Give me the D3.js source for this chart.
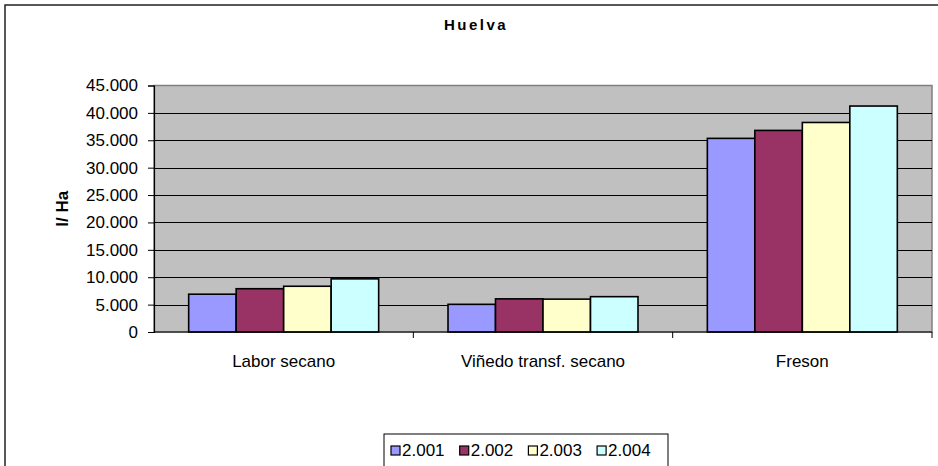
<!DOCTYPE html>
<html>
<head>
<meta charset="utf-8">
<script src="https://cdn.jsdelivr.net/npm/d3@7"></script>
<style>
  body { margin: 0; background: #fff; }
  svg text { font-family: "Liberation Sans", Arial, sans-serif; fill: #000; }
</style>
</head>
<body>
<div id="chart"></div>
<script>
// data
let categories = [ "Labor secano", "Viñedo transf. secano", "Freson" ];
let years = [ "2.001", "2.002", "2.003", "2.004" ];
let values2001 = [ 6900, 5050, 35350 ];
let values2002 = [ 7900, 6050, 36800 ];
let values2003 = [ 8350, 6000, 38250 ];
let values2004 = [ 9700, 6450, 41250 ];
let colors = [ "#9999ff", "#993366", "#ffffcc", "#ccffff" ];
let yTicks = [ 0, 5000, 10000, 15000, 20000, 25000, 30000, 35000, 40000, 45000 ];

let series = [ values2001, values2002, values2003, values2004 ];

let options = {
  width: 938,
  height: 466,
  plot: { left: 154, right: 932, top: 85.5, bottom: 332 }
};

let locale = d3.formatLocale({ decimal: ",", thousands: ".", grouping: [3], currency: ["", ""] });
let fmt = locale.format(",");

let svg = d3.select("#chart")
  .append("svg")
  .attr("width", options.width)
  .attr("height", options.height);

// outer chart border
svg.append("rect")
   .attr("x", 5).attr("y", 5)
   .attr("width", 960).attr("height", 500)
   .attr("fill", "#fff")
   .attr("stroke", "#222")
   .attr("stroke-width", 1.5);

// title
svg.append("text")
   .text("Huelva")
   .attr("x", 476).attr("y", 30)
   .attr("text-anchor", "middle")
   .style("font-weight", "bold")
   .style("font-size", "15px")
   .style("letter-spacing", "2.5px");

let p = options.plot;

let x0 = d3.scaleBand()
  .domain(categories)
  .range([p.left, p.right])
  .padding(0);

let x1 = d3.scaleBand()
  .domain(years)
  .range([0, x0.bandwidth()])
  .paddingInner(0)
  .paddingOuter(0.73);

let y = d3.scaleLinear()
  .domain([0, 45000])
  .range([p.bottom, p.top]);

// plot background
svg.append("rect")
   .attr("x", p.left).attr("y", p.top)
   .attr("width", p.right - p.left)
   .attr("height", p.bottom - p.top)
   .attr("fill", "#c0c0c0")
   .attr("stroke", "#808080")
   .attr("stroke-width", 1.5);

// gridlines
svg.append("g")
   .selectAll("line")
   .data(yTicks.filter(t => t > 0 && t < 45000))
   .enter()
   .append("line")
   .attr("x1", p.left).attr("x2", p.right)
   .attr("y1", d => Math.round(y(d)) + 0.5)
   .attr("y2", d => Math.round(y(d)) + 0.5)
   .attr("stroke", "#000")
   .attr("stroke-width", 1);

// bars
let groups = svg.append("g")
  .selectAll("g")
  .data(categories)
  .enter()
  .append("g")
  .attr("transform", d => `translate(${x0(d)},0)`);

groups.selectAll("rect")
  .data((c, i) => years.map((yr, j) => ({ year: yr, value: series[j][i], color: colors[j] })))
  .enter()
  .append("rect")
  .attr("x", d => x1(d.year))
  .attr("y", d => y(d.value))
  .attr("width", x1.bandwidth())
  .attr("height", d => y(0) - y(d.value))
  .attr("fill", d => d.color)
  .attr("stroke", "#000")
  .attr("stroke-width", 1.6);

// y axis
let yAxis = svg.append("g")
  .attr("transform", `translate(${p.left},0)`)
  .call(d3.axisLeft(y).tickValues(yTicks).tickFormat(fmt).tickSize(6).tickPadding(10));

yAxis.select(".domain").attr("stroke", "#000").attr("stroke-width", 1.2);
yAxis.selectAll(".tick line").attr("stroke", "#000");
yAxis.selectAll(".tick text")
  .style("font-size", "17px")
  .style("font-family", "'Liberation Sans', Arial, sans-serif")
  .attr("fill", "#000");

// x axis
let xAxis = svg.append("g")
  .attr("transform", `translate(0,${p.bottom})`);

xAxis.append("line")
  .attr("x1", p.left).attr("x2", p.right)
  .attr("y1", 0).attr("y2", 0)
  .attr("stroke", "#000").attr("stroke-width", 1.2);

xAxis.selectAll("line.tk")
  .data(categories)
  .enter()
  .append("line")
  .classed("tk", true)
  .attr("x1", d => x0(d) + x0.bandwidth())
  .attr("x2", d => x0(d) + x0.bandwidth())
  .attr("y1", 0).attr("y2", 6)
  .attr("stroke", "#000");

xAxis.selectAll("text")
  .data(categories)
  .enter()
  .append("text")
  .text(d => d)
  .attr("x", d => x0(d) + x0.bandwidth() / 2)
  .attr("y", 35)
  .attr("text-anchor", "middle")
  .style("font-size", "17px");

// y axis title
svg.append("text")
   .text("l/ Ha")
   .attr("transform", `translate(68,${(p.top + p.bottom) / 2}) rotate(-90)`)
   .attr("text-anchor", "middle")
   .style("font-weight", "bold")
   .style("font-size", "17px");

// legend
let legend = svg.append("g").attr("id", "legend");

legend.append("rect")
      .attr("x", 384).attr("y", 434)
      .attr("width", 284).attr("height", 60)
      .attr("fill", "#fff")
      .attr("stroke", "#000")
      .attr("stroke-width", 1);

let items = legend.selectAll("g")
  .data(years)
  .enter()
  .append("g")
  .attr("transform", (d, i) => `translate(${391 + i * 68.7},0)`);

items.append("rect")
  .attr("x", 0).attr("y", 446)
  .attr("width", 9).attr("height", 9)
  .attr("fill", (d, i) => colors[i])
  .attr("stroke", "#000")
  .attr("stroke-width", 1.2);

items.append("text")
  .text(d => d)
  .attr("x", 11).attr("y", 456)
  .style("font-size", "17px");
</script>
</body>
</html>
